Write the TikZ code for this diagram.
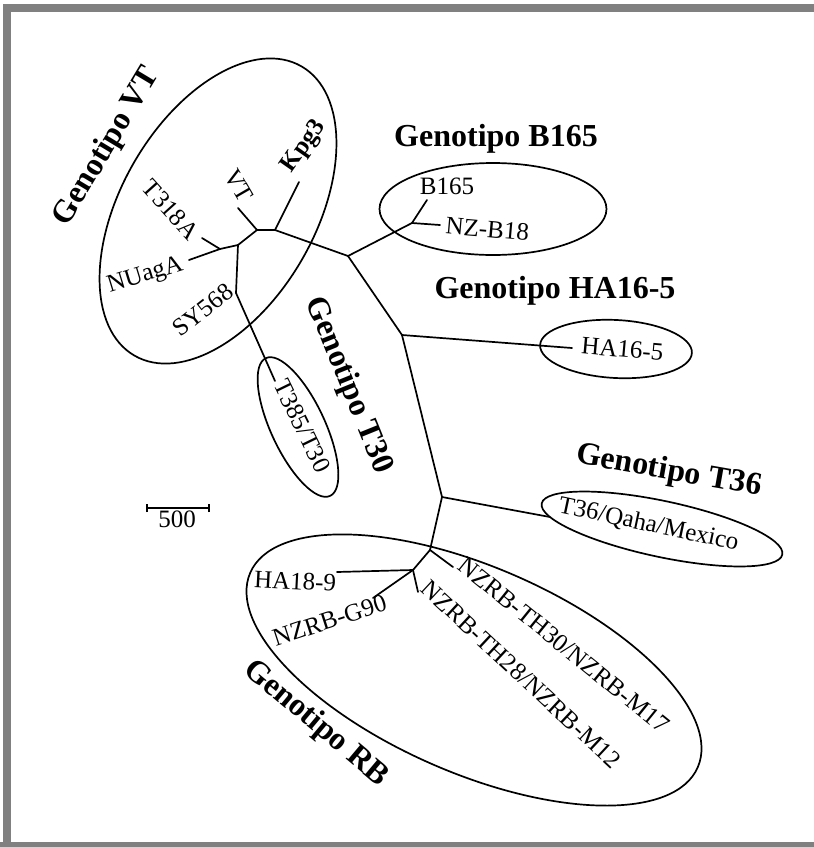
\documentclass[tikz,border=0pt]{standalone}
\usepackage{fontspec}
\setmainfont{Liberation Serif}
\usetikzlibrary{shapes.geometric}
\definecolor{framegray}{HTML}{808080}
\tikzset{
  branch/.style={line width=1.7pt, line cap=round, line join=round},
  clade/.style={draw, ellipse, line width=1.7pt, inner sep=0pt},
  leaf/.style={inner sep=0pt, text height=0.66em, text depth=0pt, font=\fontsize{25}{30}\selectfont},
  geno/.style={inner sep=0pt, text height=0.66em, text depth=0pt, font=\fontsize{32}{38}\selectfont\bfseries},
}
\begin{document}
\begin{tikzpicture}[x=1pt,y=-1pt]
\useasboundingbox (0,0) rectangle (814,847);
% frame
\draw[framegray, line width=8pt] (7,860) -- (7,8) -- (830,8);
\draw[framegray, line width=8pt] (0,846) -- (830,846);

% clade ellipses
\node[clade, minimum width=334pt, minimum height=194pt, rotate=60] (eVT) at (218,211) {};
\node[clade, minimum width=227pt, minimum height=92pt] (eB165) at (493,209) {};
\node[clade, minimum width=152pt, minimum height=58pt, rotate=-3] (eHA) at (616,349) {};
\node[clade, minimum width=152pt, minimum height=54pt, rotate=-65] (eT30) at (298,427) {};
\node[clade, minimum width=246pt, minimum height=56pt, rotate=-12] (eT36) at (662,529) {};
\node[clade, minimum width=488pt, minimum height=206pt, rotate=-23.5] (eRB) at (474,670) {};

% tree coordinates
\coordinate (A) at (257,230);
\coordinate (B) at (275,230);
\coordinate (kpg) at (299,182);
\coordinate (vt) at (238,208);
\coordinate (H1) at (238,245);
\coordinate (H2) at (220,249);
\coordinate (nua) at (189,260);
\coordinate (t318) at (202,238);
\coordinate (sy) at (236,293);
\coordinate (t385) at (275,381);
\coordinate (C) at (348,256);
\coordinate (Bn) at (412,223);
\coordinate (b165) at (427,200);
\coordinate (nzb) at (440,225);
\coordinate (D) at (402,335);
\coordinate (ha165) at (572,348);
\coordinate (E) at (442,497);
\coordinate (t36) at (550,517);
\coordinate (F) at (430,550);
\coordinate (G) at (413,570);
\coordinate (th30) at (453,567);
\coordinate (ha189) at (337,572);
\coordinate (g90) at (373,598);
\coordinate (th28) at (418,592);

% branches
\draw[branch] (A) -- (B);
\draw[branch] (B) -- (kpg);
\draw[branch] (A) -- (vt);
\draw[branch] (A) -- (H1);
\draw[branch] (H1) -- (H2);
\draw[branch] (H2) -- (nua);
\draw[branch] (H2) -- (t318);
\draw[branch] (H1) -- (sy);
\draw[branch] (sy) -- (t385);
\draw[branch] (B) -- (C);
\draw[branch] (C) -- (Bn);
\draw[branch] (Bn) -- (b165);
\draw[branch] (Bn) -- (nzb);
\draw[branch] (C) -- (D);
\draw[branch] (D) -- (ha165);
\draw[branch] (D) -- (E);
\draw[branch] (E) -- (t36);
\draw[branch] (E) -- (F);
\draw[branch] (F) -- (th30);
\draw[branch] (F) -- (G);
\draw[branch] (G) -- (ha189);
\draw[branch] (G) -- (g90);
\draw[branch] (G) -- (th28);

% leaf labels
\node[leaf, font=\fontsize{25}{30}\selectfont\bfseries, rotate=55] (lKpg) at (306,148) {Kpg3};
\node[leaf, rotate=-60] (lVT) at (235,188) {VT};
\node[leaf, rotate=-48] (lT318) at (167,213) {T318A};
\node[leaf, rotate=17] (lNUagA) at (146,278) {NUagA};
\node[leaf, rotate=38] (lSY) at (206,314) {SY568};
\node[leaf, rotate=-64] (lT385) at (298,428) {T385/T30};
\node[leaf] (lB165) at (447,191) {B165};
\node[leaf, rotate=-5] (lNZB) at (487,234) {NZ-B18};
\node[leaf, rotate=-5] (lHA165) at (622,354) {HA16-5};
\node[leaf, rotate=-12] (lT36) at (648,528) {T36/Qaha/Mexico};
\node[leaf, rotate=-3] (lHA189) at (295,586) {HA18-9};
\node[leaf, rotate=18] (lG90) at (331,625) {NZRB-G90};
\node[leaf, rotate=-39] (lTH30) at (561,649) {NZRB-TH30/NZRB-M17};
\node[leaf, rotate=-43] (lTH28) at (518,678) {NZRB-TH28/NZRB-M12};

% genotype labels
\node[geno, rotate=59] (gVT) at (111,149) {Genotipo VT};
\node[geno] (gB165) at (496,143) {Genotipo B165};
\node[geno] (gHA) at (555,295) {Genotipo HA16-5};
\node[geno, rotate=-68] (gT30) at (344,387) {Genotipo T30};
\node[geno, rotate=-10] (gT36) at (668,476) {Genotipo T36};
\node[geno, rotate=-40] (gRB) at (313,727) {Genotipo RB};

% scale bar
\coordinate (s1) at (147,508);
\coordinate (s2) at (209,508);
\draw[line width=1.5pt] (s1) -- (s2);
\draw[line width=1.5pt] ([yshift=-4pt]s1) -- ([yshift=4pt]s1);
\draw[line width=1.5pt] ([yshift=-4pt]s2) -- ([yshift=4pt]s2);
\node[leaf] (l500) at (177,524) {500};
\end{tikzpicture}
\end{document}
